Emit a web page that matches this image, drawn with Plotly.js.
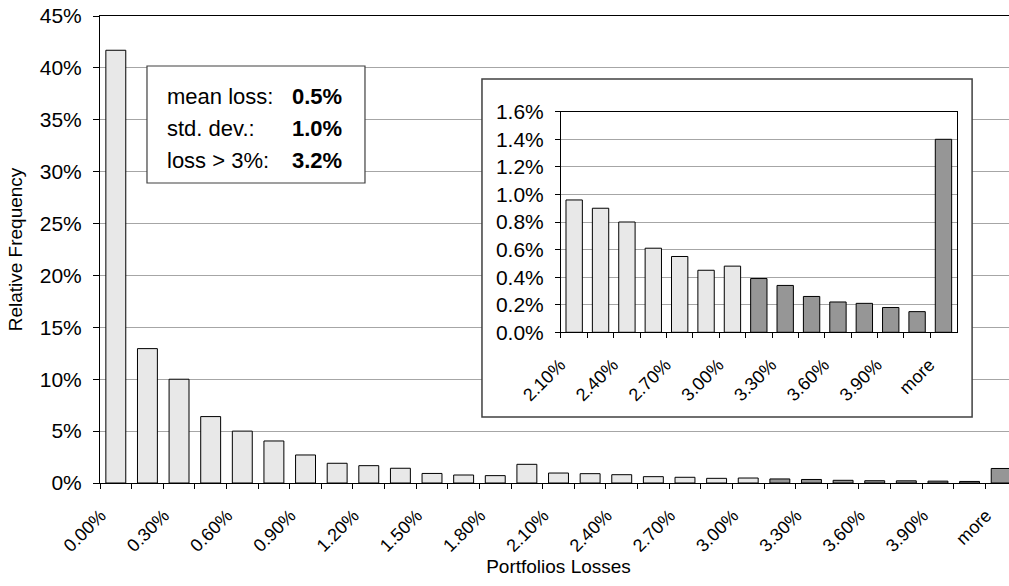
<!DOCTYPE html>
<html>
<head>
<meta charset="utf-8">
<script src="https://cdn.plot.ly/plotly-3.0.1.min.js"></script>
<style>
  html, body { margin: 0; padding: 0; overflow: hidden; background: #fff; }
  #chart { width: 1017px; height: 586px; }
</style>
</head>
<body>
<div id="chart"></div>
<script>
// Loss buckets (lower bound of each 0.15% bin) and the open-ended tail
const lossBins = [
  "0.00%", "0.15%", "0.30%", "0.45%", "0.60%", "0.75%", "0.90%", "1.05%",
  "1.20%", "1.35%", "1.50%", "1.65%", "1.80%", "1.95%", "2.10%", "2.25%",
  "2.40%", "2.55%", "2.70%", "2.85%", "3.00%", "3.15%", "3.30%", "3.45%",
  "3.60%", "3.75%", "3.90%", "4.05%", "more"
];

// Relative frequency of each bucket, in percent
const relFreq = [
  41.7, 12.95, 10.0, 6.4, 5.0, 4.05, 2.7, 1.9,
  1.67, 1.42, 0.92, 0.77, 0.71, 1.8, 0.96, 0.90,
  0.80, 0.61, 0.55, 0.45, 0.48, 0.39, 0.34, 0.26,
  0.22, 0.21, 0.18, 0.15, 1.40
];

// The zoomed panel shows the tail starting at this bucket
const tailStartBin = "2.10%";

// Summary statistics shown in the text box
const statLabels = ["mean loss:", "std. dev.:", "loss > 3%:"];
const statValues = ["0.5%", "1.0%", "3.2%"];

const LIGHT = "#e8e8e8";
const DARK = "#969696";
const GRID = "#a6a6a6";
const FONT = "Liberation Sans, Arial, Helvetica, sans-serif";

// Buckets beyond 3% are shaded darker
function barColor(label) {
  return (label === "more" || parseFloat(label) > 3.0) ? DARK : LIGHT;
}
// Only every other bucket carries a tick label
function sparseLabels(labels) {
  return labels.map((l, i) => (i % 2 === 0 ? l : ""));
}

const tailIdx = lossBins.indexOf(tailStartBin);
const tailBins = lossBins.slice(tailIdx);
const tailFreq = relFreq.slice(tailIdx);

const mainTrace = {
  type: "bar",
  x: lossBins,
  y: relFreq,
  width: 0.63,
  marker: { color: lossBins.map(barColor), line: { color: "#000", width: 1 } },
  hoverinfo: "x+y",
  xaxis: "x",
  yaxis: "y"
};

const tailTrace = {
  type: "bar",
  x: tailBins,
  y: tailFreq,
  width: 0.62,
  marker: { color: tailBins.map(barColor), line: { color: "#000", width: 1 } },
  hoverinfo: "x+y",
  xaxis: "x2",
  yaxis: "y2"
};

const xTickFont = { family: FONT, size: 18, color: "#000" };
const yTickFont = { family: FONT, size: 21, color: "#000" };

const annotations = [];
statLabels.forEach((lab, i) => {
  const yPix = [96.7, 128.3, 160][i];
  annotations.push({
    xref: "paper", yref: "paper", x: 0.0705, y: (483 - yPix) / 467,
    xanchor: "left", yanchor: "middle", showarrow: false,
    text: lab, font: { family: FONT, size: 22, color: "#000" }
  });
  annotations.push({
    xref: "paper", yref: "paper", x: 0.2075, y: (483 - yPix) / 467,
    xanchor: "left", yanchor: "middle", showarrow: false,
    text: "<b>" + statValues[i] + "</b>", font: { family: FONT, size: 22, color: "#000" }
  });
});

const layout = {
  width: 1017,
  height: 586,
  margin: { l: 100, r: 0, t: 16, b: 103 },
  paper_bgcolor: "#fff",
  plot_bgcolor: "#fff",
  showlegend: false,
  font: { family: FONT, color: "#000" },
  xaxis: {
    type: "category",
    categoryorder: "array",
    categoryarray: lossBins,
    range: [-0.5, 28.5],
    tickmode: "array",
    tickvals: lossBins,
    ticktext: sparseLabels(lossBins),
    tickson: "boundaries",
    ticks: "outside",
    ticklen: 5,
    tickcolor: "#000",
    tickangle: -45,
    tickfont: xTickFont,
    ticklabelstandoff: 14,
    ticklabelshift: -15,
    showgrid: false,
    showline: true,
    linecolor: "#000",
    linewidth: 1,
    mirror: true,
    fixedrange: true,
    title: { text: "Portfolios Losses", font: { family: FONT, size: 19, color: "#000" }, standoff: 4 }
  },
  yaxis: {
    range: [0, 45],
    dtick: 5,
    tick0: 0,
    ticksuffix: "%",
    ticks: "outside",
    ticklen: 6,
    tickcolor: "#000",
    tickfont: yTickFont,
    ticklabelstandoff: 7,
    showgrid: true,
    gridcolor: GRID,
    gridwidth: 1,
    zeroline: false,
    showline: true,
    linecolor: "#000",
    linewidth: 1,
    fixedrange: true,
    title: { text: "Relative Frequency", font: { family: FONT, size: 19, color: "#000" }, standoff: 12 }
  },
  xaxis2: {
    anchor: "y2",
    domain: [0.5027, 0.9342],
    type: "category",
    categoryorder: "array",
    categoryarray: tailBins,
    range: [-0.5, 14.5],
    tickmode: "array",
    tickvals: tailBins,
    ticktext: sparseLabels(tailBins),
    tickson: "boundaries",
    ticks: "outside",
    ticklen: 5,
    tickcolor: "#000",
    tickangle: -45,
    tickfont: xTickFont,
    ticklabelstandoff: 14,
    ticklabelshift: -14,
    showgrid: false,
    showline: true,
    linecolor: "#000",
    linewidth: 1,
    mirror: true,
    fixedrange: true
  },
  yaxis2: {
    anchor: "x2",
    domain: [0.3227, 0.795],
    range: [0, 1.6],
    dtick: 0.2,
    tick0: 0,
    tickformat: ".1f",
    ticksuffix: "%",
    ticks: "outside",
    ticklen: 5,
    tickcolor: "#000",
    tickfont: yTickFont,
    ticklabelstandoff: 7,
    showgrid: true,
    gridcolor: GRID,
    gridwidth: 1,
    zeroline: false,
    showline: true,
    linecolor: "#000",
    linewidth: 1,
    mirror: true,
    fixedrange: true
  },
  shapes: [
    // frame around the zoomed tail panel
    {
      type: "rect", xref: "x", yref: "y", layer: "between",
      x0: 11.58, x1: 27.08, y0: 6.36, y1: 38.93,
      fillcolor: "#fff", line: { color: "#404040", width: 1.5 }
    },
    // frame around the statistics text
    {
      type: "rect", xref: "x", yref: "y", layer: "between",
      x0: 0.986, x1: 7.88, y0: 28.91, y1: 40.18,
      fillcolor: "#fff", line: { color: "#404040", width: 1.2 }
    }
  ],
  annotations: annotations
};

Plotly.newPlot("chart", [mainTrace, tailTrace], layout, { displayModeBar: false, staticPlot: true });
</script>
</body>
</html>
